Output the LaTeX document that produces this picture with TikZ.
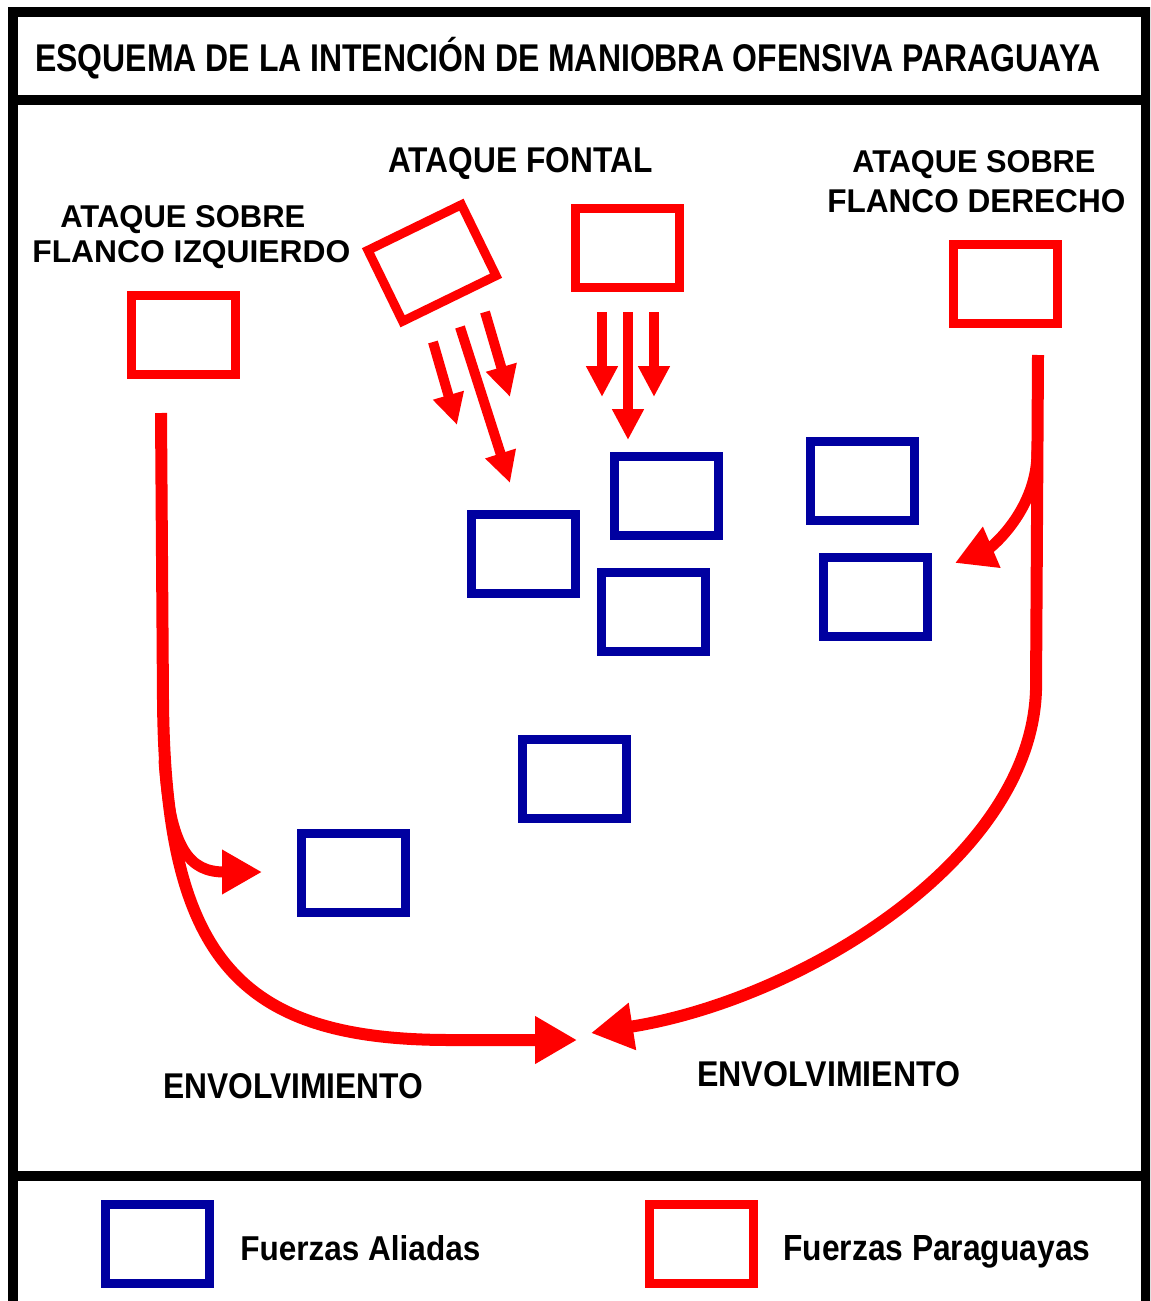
\documentclass[tikz,border=0pt]{standalone}
\usepackage{fontspec}
\setmainfont{Liberation Sans}
\usetikzlibrary{arrows.meta}
\definecolor{aliado}{RGB}{0,0,160}
\definecolor{paraguayo}{RGB}{255,0,0}
\newlength{\pxu}\setlength{\pxu}{0.02cm}
\newcommand{\fittext}[3]{\resizebox{#1\pxu}{#2\pxu}{#3}}
\tikzset{
  fuerza/.style={rectangle, line width=9\pxu, minimum width=104\pxu,
    minimum height=79\pxu, inner sep=0pt},
  aliada/.style={fuerza, draw=aliado},
  paraguaya/.style={fuerza, draw=paraguayo},
  rotulo/.style={anchor=base west, inner sep=0pt, font=\bfseries},
  avance/.style={draw=paraguayo, line width=10\pxu,
    -{Triangle[length=0.62cm,width=0.6cm]}},
  envolver/.style={draw=paraguayo, line width=12\pxu,
    -{Triangle[length=0.84cm,width=0.9cm]}},
  rama/.style={draw=paraguayo, line width=11\pxu,
    -{Triangle[length=0.8cm,width=0.84cm]}},
  marco/.style={line width=10\pxu}
}
\begin{document}
\begin{tikzpicture}[x=0.02cm, y=-0.02cm]
  \useasboundingbox (0,0) rectangle (1150,1301);
  \clip (0,0) rectangle (1150,1301);
  % marco
  \draw[marco] (12.5,12.5) rectangle (1145.5,1320);
  \draw[marco] (12.5,100.5) -- (1145.5,100.5);
  \draw[marco] (12.5,1176) -- (1145.5,1176);
  \node[rotulo] (titulo) at (35,72)
    {\fittext{1065}{27}{ESQUEMA DE LA INTENCI\smash{Ó}N DE MANIOBRA OFENSIVA PARAGUAYA}};

  % fuerzas paraguayas
  \node[paraguaya] (izq) at (183.5,335) {};
  \node[paraguaya] (frente) at (627,248) {};
  \node[paraguaya, rotate=26] (frenteb) at (432,263) {};
  \node[paraguaya] (der) at (1005,284) {};
  \node[rotulo] (izqa) at (60,227) {\fittext{245}{22}{ATAQUE SOBRE}};
  \node[rotulo] (izqb) at (32,262) {\fittext{318}{22}{FLANCO IZQUIERDO}};
  \node[rotulo] (fren) at (388,172) {\fittext{264}{25}{ATAQUE FONTAL}};
  \node[rotulo] (dera) at (852,172) {\fittext{243}{22}{ATAQUE SOBRE}};
  \node[rotulo] (derb) at (827,212) {\fittext{298}{23}{FLANCO DERECHO}};

  % fuerzas aliadas
  \node[aliada] (al1) at (523,554) {};
  \node[aliada] (al2) at (666,496) {};
  \node[aliada] (al3) at (653,612) {};
  \node[aliada] (al4) at (862,481) {};
  \node[aliada] (al5) at (875,597) {};
  \node[aliada] (al6) at (574,779) {};
  \node[aliada] (al7) at (353,873) {};

  % ataque frontal
  \coordinate (f1a) at (602,312);
  \coordinate (f1b) at (602,397);
  \coordinate (f2a) at (628,312);
  \coordinate (f2b) at (628,440);
  \coordinate (f3a) at (654,312);
  \coordinate (f3b) at (654,397);
  \coordinate (r1a) at (433,342);
  \coordinate (r1b) at (457,425);
  \coordinate (r2a) at (460,327);
  \coordinate (r2b) at (510,483);
  \coordinate (r3a) at (485,312);
  \coordinate (r3b) at (510,397);
  \draw[avance] (f1a) -- (f1b);
  \draw[avance] (f2a) -- (f2b);
  \draw[avance] (f3a) -- (f3b);
  \draw[avance] (r1a) -- (r1b);
  \draw[avance] (r2a) -- (r2b);
  \draw[avance] (r3a) -- (r3b);

  % envolvimiento por la izquierda
  \coordinate (iz0) at (161,413);
  \coordinate (iz1) at (163,700);
  \coordinate (iz2) at (164,760);
  \coordinate (izr) at (262,872);
  \coordinate (izf) at (577,1040);
  \draw[envolver] (iz0) -- (iz1) .. controls (165,960) and (240,1040) .. (450,1040) -- (izf);
  \draw[rama] (iz2) .. controls (170,850) and (190,872) .. (izr);

  % envolvimiento por la derecha
  \coordinate (de0) at (1038,355);
  \coordinate (de1) at (1036,690);
  \coordinate (de2) at (1037,450);
  \coordinate (der2) at (955,563);
  \coordinate (def) at (591,1033);
  \draw[envolver] (de0) -- (de1) .. controls (1031,860) and (800,1000) .. (def);
  \draw[rama] (de2) .. controls (1038,510) and (990,548) .. (der2);

  \node[rotulo] (envi) at (163,1098) {\fittext{260}{25}{ENVOLVIMIENTO}};
  \node[rotulo] (envd) at (697,1086) {\fittext{263}{25}{ENVOLVIMIENTO}};

  % leyenda
  \node[aliada] (leyal) at (157,1244) {};
  \node[paraguaya] (leypa) at (701,1244) {};
  \node[rotulo] (leya) at (240,1260) {\fittext{240}{25}{Fuerzas Aliadas}};
  \node[rotulo] (leyp) at (783,1260) {\fittext{307}{25}{Fuerzas Paraguayas}};
\end{tikzpicture}
\end{document}
